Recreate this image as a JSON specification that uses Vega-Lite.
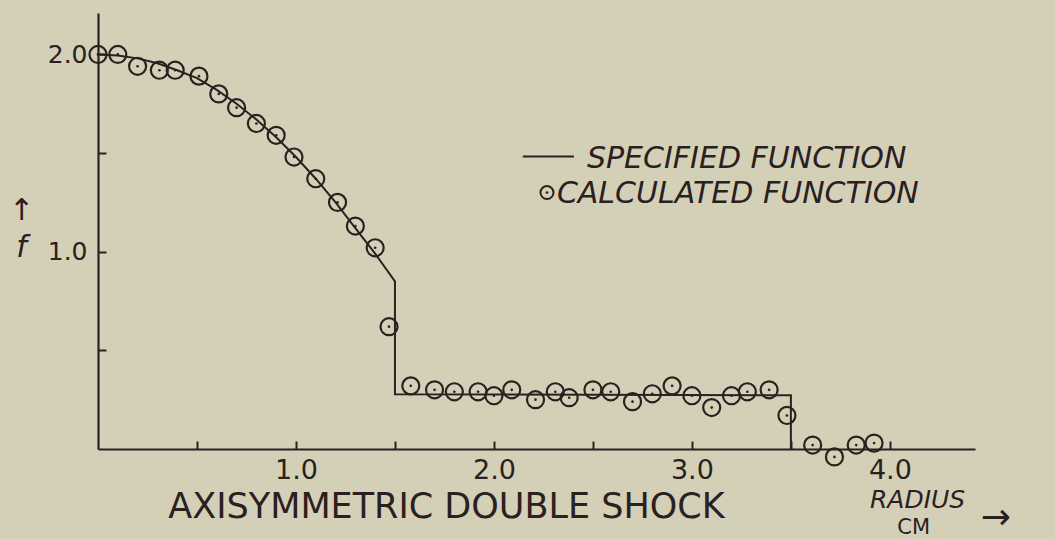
{
  "$schema": "https://vega.github.io/schema/vega-lite/v6.json",
  "autosize": "none",
  "width": 877,
  "height": 436,
  "padding": {"left": 98, "top": 13, "right": 80, "bottom": 90},
  "background": "#d4d0b8",
  "config": {
    "view": {"stroke": null},
    "font": "DejaVu Sans",
    "axis": {
      "grid": false,
      "domainColor": "#2a2020",
      "domainWidth": 2.2,
      "tickColor": "#2a2020",
      "tickWidth": 2,
      "tickSize": -8,
      "labelColor": "#2a2020",
      "labelFont": "DejaVu Sans",
      "titleColor": "#2a2020",
      "titleFont": "DejaVu Sans",
      "titleFontWeight": "normal"
    }
  },
  "datasets": {
    "specified": [
      {"x": 0.0, "y": 2.0, "step": 1},
      {"x": 0.1, "y": 1.995, "step": 2},
      {"x": 0.2, "y": 1.98, "step": 3},
      {"x": 0.3, "y": 1.955, "step": 4},
      {"x": 0.4, "y": 1.92, "step": 5},
      {"x": 0.5, "y": 1.88, "step": 6},
      {"x": 0.6, "y": 1.82, "step": 7},
      {"x": 0.7, "y": 1.75, "step": 8},
      {"x": 0.8, "y": 1.67, "step": 9},
      {"x": 0.9, "y": 1.58, "step": 10},
      {"x": 1.0, "y": 1.48, "step": 11},
      {"x": 1.1, "y": 1.37, "step": 12},
      {"x": 1.2, "y": 1.25, "step": 13},
      {"x": 1.3, "y": 1.12, "step": 14},
      {"x": 1.4, "y": 0.99, "step": 15},
      {"x": 1.45, "y": 0.92, "step": 16},
      {"x": 1.5, "y": 0.85, "step": 17},
      {"x": 1.5, "y": 0.278, "step": 18},
      {"x": 3.5, "y": 0.272, "step": 19},
      {"x": 3.5, "y": 0.0, "step": 20}
    ],
    "calculated": [
      {"x": 0.0, "y": 2.0},
      {"x": 0.1, "y": 2.0},
      {"x": 0.2, "y": 1.94},
      {"x": 0.31, "y": 1.92},
      {"x": 0.39, "y": 1.92},
      {"x": 0.51, "y": 1.89},
      {"x": 0.61, "y": 1.8},
      {"x": 0.7, "y": 1.73},
      {"x": 0.8, "y": 1.65},
      {"x": 0.9, "y": 1.59},
      {"x": 0.99, "y": 1.48},
      {"x": 1.1, "y": 1.37},
      {"x": 1.21, "y": 1.25},
      {"x": 1.3, "y": 1.13},
      {"x": 1.4, "y": 1.02},
      {"x": 1.47, "y": 0.62},
      {"x": 1.58, "y": 0.32},
      {"x": 1.7, "y": 0.3},
      {"x": 1.8, "y": 0.29},
      {"x": 1.92, "y": 0.29},
      {"x": 2.0, "y": 0.27},
      {"x": 2.09, "y": 0.3},
      {"x": 2.21, "y": 0.25},
      {"x": 2.31, "y": 0.29},
      {"x": 2.38, "y": 0.26},
      {"x": 2.5, "y": 0.3},
      {"x": 2.59, "y": 0.29},
      {"x": 2.7, "y": 0.24},
      {"x": 2.8, "y": 0.28},
      {"x": 2.9, "y": 0.32},
      {"x": 3.0, "y": 0.27},
      {"x": 3.1, "y": 0.21},
      {"x": 3.2, "y": 0.27},
      {"x": 3.28, "y": 0.29},
      {"x": 3.39, "y": 0.3},
      {"x": 3.48, "y": 0.17},
      {"x": 3.61, "y": 0.02},
      {"x": 3.72, "y": -0.04},
      {"x": 3.83, "y": 0.02},
      {"x": 3.92, "y": 0.03}
    ],
    "key": [
      {"item": "line", "x": 2.146, "x2": 2.404, "y": 1.482},
      {"item": "circle", "x": 2.268, "y": 1.3},
      {"item": "label", "x": 2.47, "y": 1.426, "text": "SPECIFIED FUNCTION"},
      {"item": "label", "x": 2.318, "y": 1.249, "text": "CALCULATED FUNCTION"}
    ],
    "notes": [
      {"item": "radius", "x": 4.14, "y": -0.2995, "text": "RADIUS"},
      {"item": "unit", "x": 4.12, "y": -0.431, "text": "CM"},
      {"item": "arrow", "x": 4.535, "y": -0.35, "text": "→"}
    ]
  },
  "encoding": {
    "x": {
      "field": "x",
      "type": "quantitative",
      "scale": {"domain": [0, 4.43], "nice": false, "zero": false},
      "axis": {
        "values": [0.5, 1, 1.5, 2, 2.5, 3, 3.5, 4],
        "labelExpr": "datum.value % 1 === 0 ? format(datum.value, '.1f') : ''",
        "labelFontSize": 27,
        "labelPadding": 16,
        "labelFlush": false,
        "title": "AXISYMMETRIC DOUBLE SHOCK",
        "titleFontSize": 35,
        "titleX": 348,
        "titleY": 68,
        "titleAlign": "center",
        "titleBaseline": "alphabetic"
      }
    },
    "y": {
      "field": "y",
      "type": "quantitative",
      "scale": {"domain": [0, 2.21], "nice": false, "zero": false},
      "axis": {
        "values": [0.5, 1, 1.5, 2],
        "labelExpr": "datum.value % 1 === 0 ? format(datum.value, '.1f') : ''",
        "labelFontSize": 25,
        "labelPadding": 19,
        "labelFlush": false,
        "title": ["↑", "f"],
        "titleAngle": 0,
        "titleFontSize": 30,
        "titleFontStyle": "italic",
        "titleLineHeight": 37,
        "titleX": -77,
        "titleY": 206,
        "titleAlign": "center",
        "titleBaseline": "alphabetic"
      }
    }
  },
  "layer": [
    {
      "data": {"name": "specified"},
      "mark": {"type": "line", "color": "#2a2020", "strokeWidth": 2},
      "encoding": {"order": {"field": "step", "type": "quantitative"}}
    },
    {
      "data": {"name": "calculated"},
      "mark": {"type": "point", "shape": "circle", "filled": false, "stroke": "#2a2020", "strokeWidth": 2.2, "size": 290, "opacity": 1}
    },
    {
      "data": {"name": "calculated"},
      "mark": {"type": "point", "shape": "circle", "filled": true, "color": "#2a2020", "size": 7, "opacity": 1}
    },
    {
      "data": {"name": "key"},
      "transform": [{"filter": "datum.item === 'line'"}],
      "mark": {"type": "rule", "color": "#2a2020", "strokeWidth": 2},
      "encoding": {"x2": {"field": "x2"}}
    },
    {
      "data": {"name": "key"},
      "transform": [{"filter": "datum.item === 'circle'"}],
      "mark": {"type": "point", "shape": "circle", "filled": false, "stroke": "#2a2020", "strokeWidth": 2, "size": 170, "opacity": 1}
    },
    {
      "data": {"name": "key"},
      "transform": [{"filter": "datum.item === 'circle'"}],
      "mark": {"type": "point", "shape": "circle", "filled": true, "color": "#2a2020", "size": 7, "opacity": 1}
    },
    {
      "data": {"name": "key"},
      "transform": [{"filter": "datum.item === 'label'"}],
      "mark": {"type": "text", "align": "left", "baseline": "alphabetic", "font": "DejaVu Sans", "fontSize": 30, "fontStyle": "italic", "color": "#2a2020"},
      "encoding": {"text": {"field": "text"}}
    },
    {
      "data": {"name": "notes"},
      "transform": [{"filter": "datum.item === 'radius'"}],
      "mark": {"type": "text", "align": "center", "baseline": "alphabetic", "font": "DejaVu Sans", "fontSize": 25, "fontStyle": "italic", "color": "#2a2020"},
      "encoding": {"text": {"field": "text"}}
    },
    {
      "data": {"name": "notes"},
      "transform": [{"filter": "datum.item === 'unit'"}],
      "mark": {"type": "text", "align": "center", "baseline": "alphabetic", "font": "DejaVu Sans", "fontSize": 21, "color": "#2a2020"},
      "encoding": {"text": {"field": "text"}}
    },
    {
      "data": {"name": "notes"},
      "transform": [{"filter": "datum.item === 'arrow'"}],
      "mark": {"type": "text", "align": "center", "baseline": "middle", "font": "DejaVu Sans", "fontSize": 36, "color": "#2a2020"},
      "encoding": {"text": {"field": "text"}}
    }
  ]
}
